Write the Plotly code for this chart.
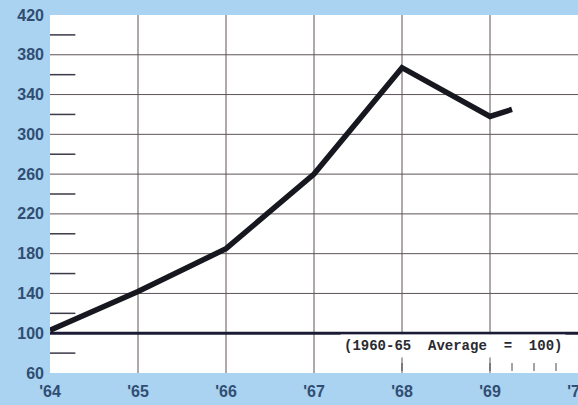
import plotly.graph_objects as go

# ---- data ----
years = [1964, 1965, 1966, 1967, 1968, 1969, 1969.25]
index_values = [103, 142, 185, 260, 367, 318, 325]

y_tick_vals = [60, 100, 140, 180, 220, 260, 300, 340, 380, 420]
y_tick_text = ["60", "100", "140", "180", "220", "260", "300", "340", "380", "420"]
y_grid_vals = [140, 180, 220, 260, 300, 340, 380]
y_minor_vals = [80, 120, 160, 200, 240, 280, 320, 360, 400]
base_value = 100

x_tick_vals = [1964, 1965, 1966, 1967, 1968, 1969, 1970]
x_tick_text = ["'64", "'65", "'66", "'67", "'68", "'69", "'70"]
x_grid_vals = [1965, 1966, 1967, 1968, 1969]
x_bottom_ticks = [1968, 1969, 1969.25, 1969.5, 1969.75]

note_text = "(1960-65\u00a0\u00a0Average\u00a0\u00a0=\u00a0\u00a0100)"

# ---- style ----
BG = "#a9d3f1"
LABEL = "#314d72"
GRID = "#5e5258"

fig = go.Figure()

shapes = []
for gy in y_grid_vals:
    shapes.append(dict(type="line", xref="paper", yref="y", x0=0, x1=1, y0=gy, y1=gy,
                       line=dict(color=GRID, width=1), layer="below"))
for my in y_minor_vals:
    shapes.append(dict(type="line", xref="paper", yref="y", x0=0, x1=0.048, y0=my, y1=my,
                       line=dict(color="#3a3a48", width=1.5), layer="below"))
for gx in x_grid_vals:
    shapes.append(dict(type="line", xref="x", yref="paper", x0=gx, x1=gx, y0=0, y1=1,
                       line=dict(color=GRID, width=1), layer="below"))
for tx in x_bottom_ticks:
    shapes.append(dict(type="line", xref="x", yref="y", x0=tx, x1=tx, y0=62, y1=70,
                       line=dict(color="#4a4450", width=1), layer="below"))
shapes.append(dict(type="line", xref="paper", yref="y", x0=0, x1=1, y0=base_value, y1=base_value,
                   line=dict(color="#1b1b35", width=3), layer="below"))

fig.add_trace(go.Scatter(
    x=years, y=index_values, mode="lines",
    line=dict(color="#17171f", width=5.5),
    hoverinfo="skip", showlegend=False,
))

fig.update_layout(
    width=578, height=405,
    margin=dict(l=50, r=0, t=15, b=32),
    paper_bgcolor=BG, plot_bgcolor="white",
    shapes=shapes,
    annotations=[dict(
        x=1968.58, y=87, xref="x", yref="y", text=note_text, showarrow=False,
        font=dict(family="Liberation Mono", size=14, color="#2a2a30", weight="bold"),
        bgcolor="white", borderpad=3,
    )],
    xaxis=dict(
        range=[1964, 1970], tickvals=x_tick_vals, ticktext=x_tick_text,
        showgrid=False, zeroline=False, showline=False, ticks="",
        ticklabelstandoff=7, automargin=False, ticklabeloverflow="allow",
        tickfont=dict(family="Liberation Sans", size=16, color=LABEL, weight="bold"),
    ),
    yaxis=dict(
        range=[60, 420], tickvals=y_tick_vals, ticktext=y_tick_text,
        showgrid=False, zeroline=False, showline=False, ticks="",
        ticklabelstandoff=5, automargin=False, ticklabeloverflow="allow",
        tickfont=dict(family="Liberation Sans", size=16, color=LABEL, weight="bold"),
    ),
)

fig.write_html("out.html", config={"displayModeBar": False},
               post_script="document.body.style.margin='0';")
